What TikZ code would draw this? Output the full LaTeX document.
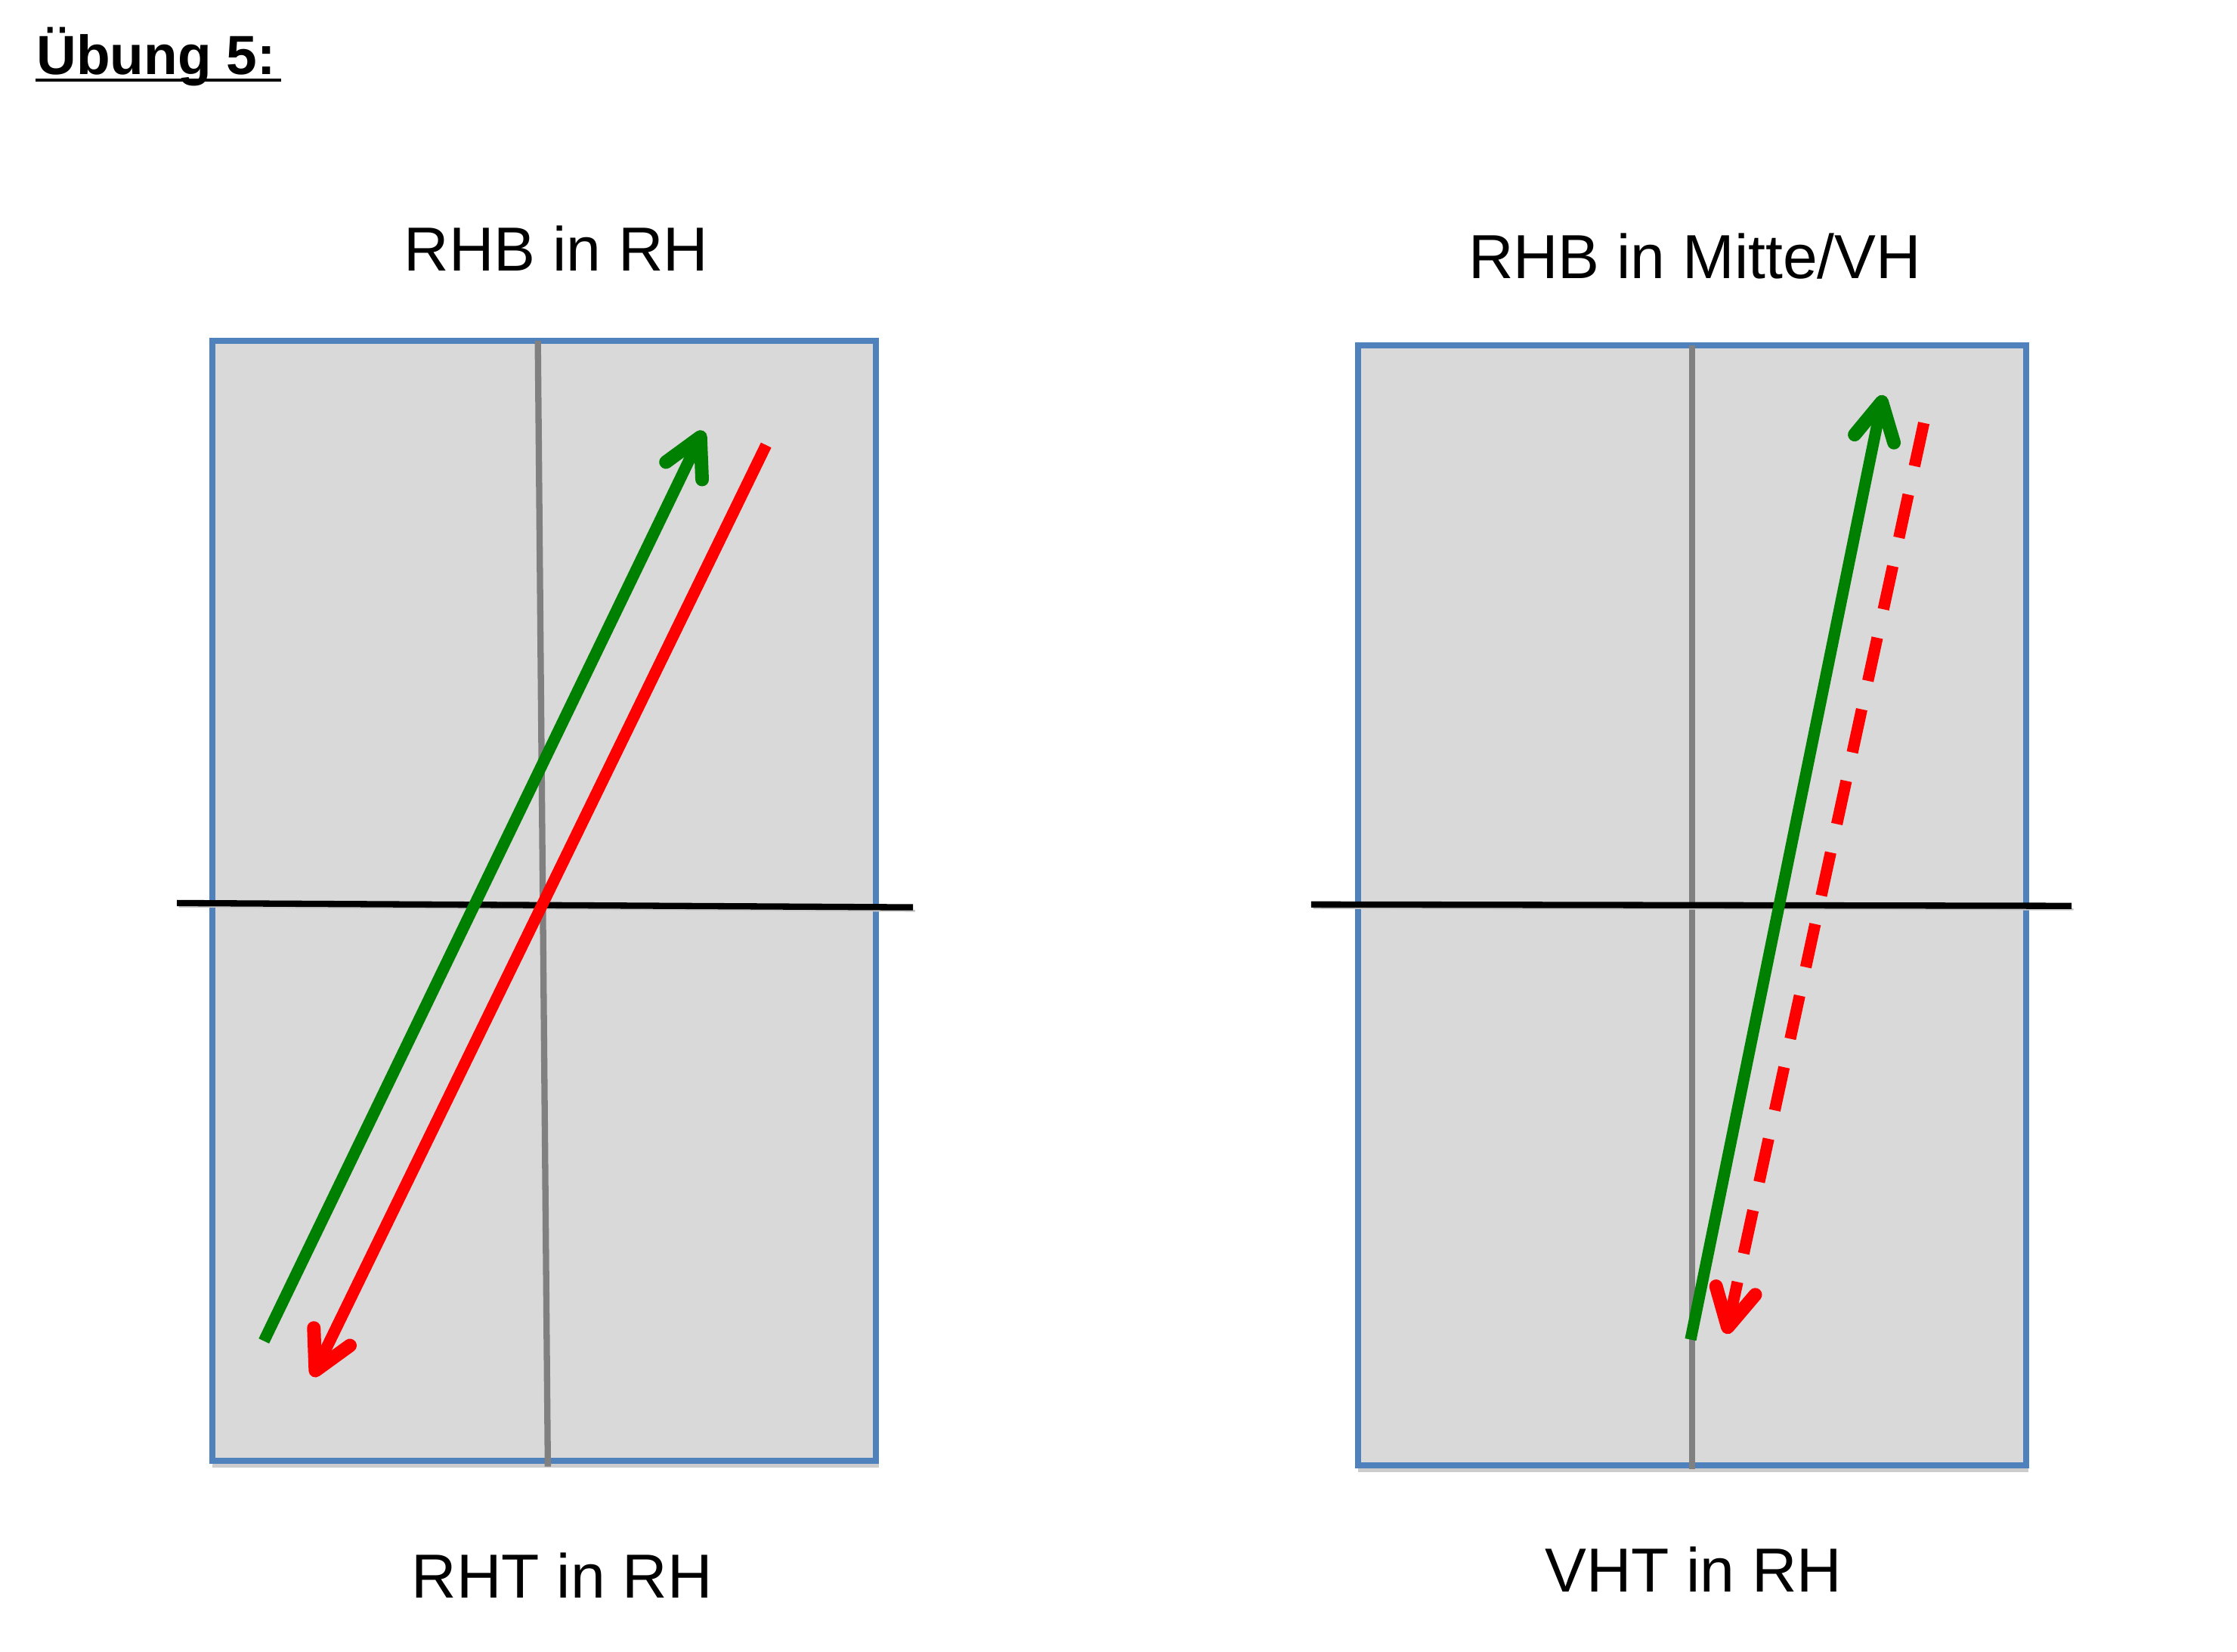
\documentclass[tikz,border=0pt]{standalone}
\usepackage{fontspec}
\setmainfont{Liberation Sans}
\usepackage{tikz}
\usetikzlibrary{arrows.meta, calc}
\definecolor{feldgrau}{HTML}{D9D9D9}
\definecolor{randblau}{HTML}{4F81BD}
\definecolor{pfeilgruen}{HTML}{008000}
\definecolor{pfeilrot}{HTML}{FF0000}
\definecolor{mittelgrau}{HTML}{808080}
\tikzset{
	feld/.style={fill=feldgrau, draw=randblau, line width=1.2pt},
	schatten/.style={preaction={draw=black!22, transform canvas={shift={(0.4pt,-0.7pt)}}}},
	mittellinie/.style={draw=mittelgrau, line width=1.25pt},
	grundlinie/.style={draw=black, line width=1.25pt, schatten},
	laufweg/.style={line width=2.3pt},
	spitze/.style={-{Straight Barb[length=7.5pt,width=8pt,round,line width=2.7pt]}},
	beschriftung/.style={font=\fontsize{12.4}{15}\selectfont, anchor=base, inner sep=0pt},
}

\begin{document}
\begin{tikzpicture}[x=0.01cm, y=-0.01cm]
	\useasboundingbox[fill=white] (0,0) rectangle (1568,1158);
	\node[anchor=base west, inner sep=0pt, font=\bfseries\fontsize{11}{13}\selectfont] (titel) at (25,52) {Übung 5:};
	\draw[line width=0.6pt] ($(titel.base west)+(0,4.2)$) -- ($(titel.base east)+(3,4.2)$);

	% linkes Feld
	\fill[black!20] (149,243) rectangle (616,1029);
	\draw[feld] (149,239) rectangle (614,1024);
	\draw[mittellinie] (377,239) -- (384,1028);
	\coordinate (gl1) at (124,633);
	\coordinate (gl2) at (640,636);
	\draw[grundlinie] (gl1) -- (gl2);
	\coordinate (gruen1a) at (185,940);
	\coordinate (gruen1b) at (493,302);
	\coordinate (rot1a) at (537,312);
	\coordinate (rot1b) at (219,965);
	\draw[laufweg, pfeilgruen, spitze] (gruen1a) -- (gruen1b);
	\draw[laufweg, pfeilrot, spitze] (rot1a) -- (rot1b);
	\node[beschriftung] (oben1) at (390,190) {RHB in RH};
	\node[beschriftung] (unten1) at (394,1120) {RHT in RH};

	% rechtes Feld
	\fill[black!20] (952,246) rectangle (1422,1032);
	\draw[feld] (952,242) rectangle (1420,1027);
	\draw[mittellinie] (1186,242) -- (1186,1030);
	\coordinate (gl3) at (919,634);
	\coordinate (gl4) at (1452,635);
	\draw[grundlinie] (gl3) -- (gl4);
	\coordinate (gruen2a) at (1185,939);
	\coordinate (gruen2b) at (1320,277);
	\coordinate (rot2a) at (1348.5,296.5);
	\coordinate (rot2b) at (1210,935);
	\draw[laufweg, pfeilgruen, spitze] (gruen2a) -- (gruen2b);
	\draw[laufweg, pfeilrot, spitze, dash pattern=on 8.8pt off 5.8pt] (rot2a) -- (rot2b);
	\node[beschriftung] (oben2) at (1188,195) {RHB in Mitte/VH};
	\node[beschriftung] (unten2) at (1187,1116) {VHT in RH};
\end{tikzpicture}
\end{document}
